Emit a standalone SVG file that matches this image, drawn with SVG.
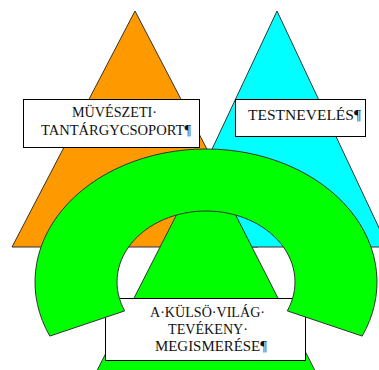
<svg xmlns="http://www.w3.org/2000/svg" width="379" height="370" viewBox="0 0 379 370">
<style>
.shape{stroke:#333;stroke-width:1}
.box{fill:#fff;stroke:#000;stroke-width:1}
.lbl{font-family:"Liberation Serif","Times New Roman",serif;font-size:15.5px;fill:#111;text-anchor:middle}
</style>
<rect width="379" height="370" fill="#fff"/>
<g id="triangle-art">
<polygon class="shape" points="135,11 258,247 12,247" fill="#FF9900"/>
</g>
<g id="triangle-pe">
<polygon class="shape" points="277,11 388,247 166,247" fill="#00FFFF"/>
</g>
<g id="label-art">
<rect class="box" x="23.5" y="99.5" width="176" height="48"/>
<text class="lbl" x="114.5" y="117" textLength="85" lengthAdjust="spacingAndGlyphs">MÜVÉSZETI·</text>
<text class="lbl" x="116" y="135" textLength="150" lengthAdjust="spacingAndGlyphs">TANTÁRGYCSOPORT¶</text>
</g>
<g id="label-pe">
<rect class="box" x="235.5" y="99.5" width="130" height="37"/>
<text class="lbl" x="304.5" y="120" font-size="16" textLength="113" lengthAdjust="spacingAndGlyphs">TESTNEVELÉS¶</text>
</g>
<g id="triangle-world">
<polygon class="shape" points="206,157 330,400 82,400" fill="#00FF00"/>
</g>
<g id="label-world">
<rect class="box" x="105.5" y="298.5" width="200" height="62"/>
<text class="lbl" x="207.5" y="317" textLength="115" lengthAdjust="spacingAndGlyphs">A·KÜLSÖ·VILÁG·</text>
<text class="lbl" x="208" y="334" textLength="80" lengthAdjust="spacingAndGlyphs">TEVÉKENY·</text>
<text class="lbl" x="211" y="351" textLength="112" lengthAdjust="spacingAndGlyphs">MEGISMERÉSE¶</text>
</g>
<g id="arch">
<path class="shape" fill="#00FF00" d="M 49.8 336.1 A 171 133 0 1 1 362.2 336.1 L 287.3 310.9 A 89 71 0 1 0 124.7 310.9 Z"/>
</g>
</svg>
